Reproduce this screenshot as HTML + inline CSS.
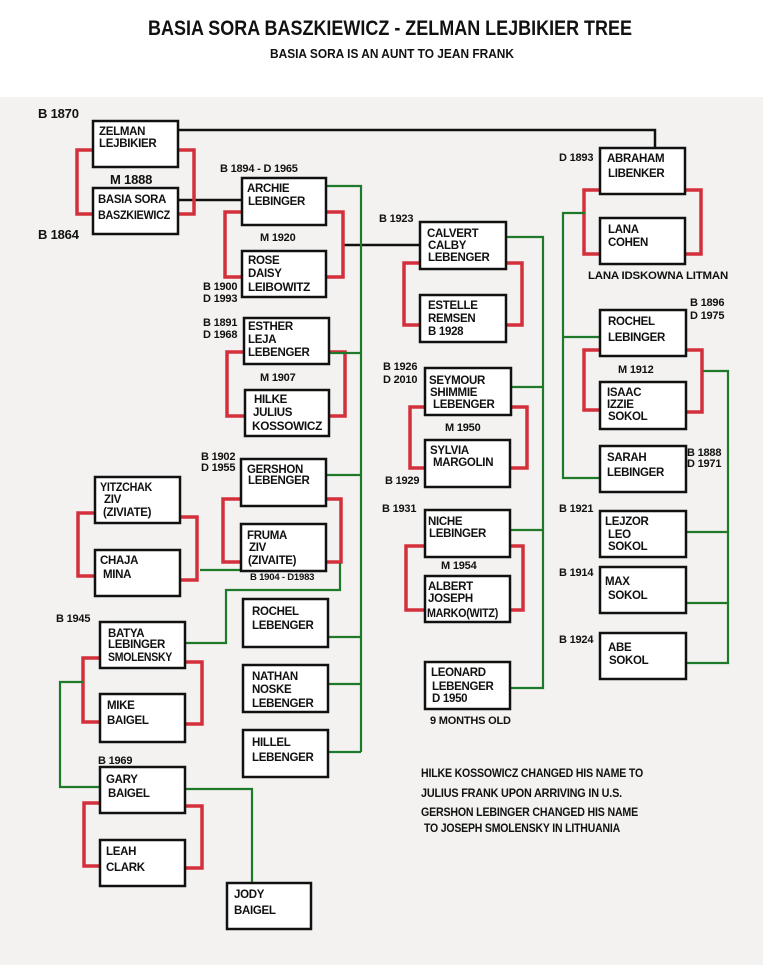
<!DOCTYPE html>
<html><head><meta charset="utf-8"><style>
html,body{margin:0;padding:0;background:#fff}
svg{display:block}
text{font-family:"Liberation Sans",sans-serif;font-weight:bold;fill:#111}
.b{font-size:11.5px;letter-spacing:-0.3px}
.l{font-size:11px;letter-spacing:-0.2px}
</style></head><body>
<svg width="763" height="965" viewBox="0 0 763 965" xmlns="http://www.w3.org/2000/svg">
<rect x="0" y="0" width="763" height="965" fill="#fff"/>
<rect x="0" y="97" width="763" height="868" fill="#f3f2f0"/>
<text x="148" y="35" textLength="484" lengthAdjust="spacingAndGlyphs" style="font-size:21px">BASIA SORA BASZKIEWICZ - ZELMAN LEJBIKIER TREE</text>
<text x="270" y="58" textLength="244" lengthAdjust="spacingAndGlyphs" style="font-size:13px">BASIA SORA IS AN  AUNT TO JEAN FRANK</text>

<g stroke="#111" stroke-width="2.5" fill="none">
<path d="M178 130 H655 V148"/>
<path d="M178 200 H242"/>
<path d="M343 245 H420"/>
</g>

<g stroke="#d3303c" stroke-width="3.5" fill="none">
<path d="M93 150 H77 V214 H93 M178 150 H194 V214 H178"/>
<path d="M242 212 H225 V277 H242 M326 212 H343 V277 H326"/>
<path d="M244 352 H227 V416 H245 M329 352 H345 V416 H329"/>
<path d="M241 499 H223 V562 H241 M326 499 H341 V562 H326"/>
<path d="M95 513 H78 V576 H95 M180 517 H197 V580 H180"/>
<path d="M100 658 H83 V722 H100 M185 662 H202 V724 H185"/>
<path d="M100 803 H84 V866 H100 M185 806 H202 V868 H185"/>
<path d="M420 263 H404 V325 H420 M506 263 H522 V325 H506"/>
<path d="M425 407 H410 V468 H425 M511 407 H527 V468 H510"/>
<path d="M425 546 H406 V610 H425 M510 546 H523 V610 H510"/>
<path d="M600 190 H584 V254 H600 M685 190 H701 V254 H685"/>
<path d="M600 350 H584 V410 H600 M686 350 H702 V412 H686"/>
</g>

<g stroke="#1e7a2a" stroke-width="2.2" fill="none">
<path d="M326 186 H361 V752"/>
<path d="M329 353 H361 M326 475 H361 M328 637 H361 M328 684 H361 M328 752 H361"/>
<path d="M200 570 H241"/>
<path d="M340 563 V590 H226 V643 H185"/>
<path d="M83 682 H60 V787 H100"/>
<path d="M185 789 H252 V883"/>
<path d="M506 237 H543 V688 H510 M511 387 H543 M510 530 H543"/>
<path d="M585 213 H563 V478 H600 M563 337 H600"/>
<path d="M703 371 H728 V663 H686 M686 532 H728 M686 603 H728"/>
</g>

<g fill="#fff" stroke="#111" stroke-width="2.5">
<rect x="93" y="121" width="85" height="46"/>
<rect x="93" y="188" width="85" height="46"/>
<rect x="242" y="178" width="84" height="47"/>
<rect x="242" y="251" width="84" height="46"/>
<rect x="244" y="318" width="85" height="46"/>
<rect x="245" y="390" width="84" height="46"/>
<rect x="241" y="459" width="85" height="47"/>
<rect x="241" y="524" width="85" height="47"/>
<rect x="95" y="477" width="85" height="46"/>
<rect x="95" y="550" width="85" height="46"/>
<rect x="243" y="599" width="85" height="48"/>
<rect x="243" y="665" width="85" height="47"/>
<rect x="243" y="730" width="85" height="47"/>
<rect x="100" y="622" width="85" height="46"/>
<rect x="100" y="694" width="85" height="48"/>
<rect x="100" y="767" width="85" height="46"/>
<rect x="100" y="840" width="85" height="46"/>
<rect x="227" y="883" width="84" height="46"/>
<rect x="420" y="222" width="86" height="47"/>
<rect x="420" y="295" width="86" height="47"/>
<rect x="425" y="368" width="86" height="47"/>
<rect x="425" y="440" width="85" height="47"/>
<rect x="425" y="510" width="85" height="47"/>
<rect x="425" y="576" width="85" height="46"/>
<rect x="425" y="662" width="85" height="47"/>
<rect x="600" y="148" width="85" height="46"/>
<rect x="600" y="218" width="85" height="46"/>
<rect x="600" y="310" width="86" height="46"/>
<rect x="600" y="382" width="86" height="47"/>
<rect x="600" y="446" width="86" height="46"/>
<rect x="600" y="511" width="86" height="46"/>
<rect x="600" y="567" width="86" height="46"/>
<rect x="600" y="633" width="86" height="46"/>
</g>

<g>
<text x="99" y="135" class="b">ZELMAN</text><text x="99" y="147" class="b">LEJBIKIER</text>
<text x="98" y="203" class="b" textLength="68" lengthAdjust="spacingAndGlyphs">BASIA SORA</text><text x="98" y="219" class="b" textLength="72" lengthAdjust="spacingAndGlyphs">BASZKIEWICZ</text>
<text x="247" y="192" class="b">ARCHIE</text><text x="248" y="205" class="b">LEBINGER</text>
<text x="248" y="264" class="b">ROSE</text><text x="248" y="277" class="b">DAISY</text><text x="248" y="291" class="b" textLength="62" lengthAdjust="spacingAndGlyphs">LEIBOWITZ</text>
<text x="248" y="330" class="b">ESTHER</text><text x="248" y="343" class="b">LEJA</text><text x="248" y="356" class="b">LEBENGER</text>
<text x="254" y="403" class="b">HILKE</text><text x="253" y="416" class="b">JULIUS</text><text x="252" y="430" class="b" textLength="70" lengthAdjust="spacingAndGlyphs">KOSSOWICZ</text>
<text x="247" y="473" class="b">GERSHON</text><text x="248" y="484" class="b">LEBENGER</text>
<text x="247" y="539" class="b">FRUMA</text><text x="249" y="551" class="b">ZIV</text><text x="248" y="564" class="b">(ZIVAITE)</text>
<text x="100" y="491" class="b" textLength="52" lengthAdjust="spacingAndGlyphs">YITZCHAK</text><text x="104" y="503" class="b">ZIV</text><text x="103" y="516" class="b">(ZIVIATE)</text>
<text x="100" y="564" class="b">CHAJA</text><text x="103" y="578" class="b">MINA</text>
<text x="252" y="615" class="b">ROCHEL</text><text x="252" y="629" class="b">LEBENGER</text>
<text x="252" y="680" class="b">NATHAN</text><text x="252" y="693" class="b">NOSKE</text><text x="252" y="707" class="b">LEBENGER</text>
<text x="252" y="746" class="b">HILLEL</text><text x="252" y="761" class="b">LEBENGER</text>
<text x="108" y="637" class="b">BATYA</text><text x="108" y="648" class="b">LEBINGER</text><text x="108" y="661" class="b" textLength="64" lengthAdjust="spacingAndGlyphs">SMOLENSKY</text>
<text x="107" y="709" class="b">MIKE</text><text x="107" y="724" class="b">BAIGEL</text>
<text x="106" y="783" class="b">GARY</text><text x="108" y="797" class="b">BAIGEL</text>
<text x="106" y="855" class="b">LEAH</text><text x="106" y="871" class="b">CLARK</text>
<text x="234" y="898" class="b">JODY</text><text x="234" y="914" class="b">BAIGEL</text>
<text x="427" y="237" class="b">CALVERT</text><text x="428" y="249" class="b">CALBY</text><text x="428" y="261" class="b">LEBENGER</text>
<text x="428" y="309" class="b">ESTELLE</text><text x="428" y="322" class="b">REMSEN</text><text x="428" y="335" class="b">B 1928</text>
<text x="429" y="384" class="b">SEYMOUR</text><text x="430" y="396" class="b">SHIMMIE</text><text x="433" y="408" class="b">LEBENGER</text>
<text x="430" y="454" class="b">SYLVIA</text><text x="433" y="466" class="b">MARGOLIN</text>
<text x="428" y="525" class="b">NICHE</text><text x="429" y="537" class="b">LEBINGER</text>
<text x="428" y="590" class="b">ALBERT</text><text x="428" y="602" class="b">JOSEPH</text><text x="427" y="617" class="b" textLength="71" lengthAdjust="spacingAndGlyphs">MARKO(WITZ)</text>
<text x="431" y="676" class="b">LEONARD</text><text x="432" y="690" class="b">LEBENGER</text><text x="432" y="702" class="b">D 1950</text>
<text x="607" y="162" class="b">ABRAHAM</text><text x="608" y="177" class="b">LIBENKER</text>
<text x="608" y="233" class="b">LANA</text><text x="608" y="246" class="b">COHEN</text>
<text x="608" y="325" class="b">ROCHEL</text><text x="608" y="341" class="b">LEBINGER</text>
<text x="607" y="396" class="b">ISAAC</text><text x="607" y="408" class="b">IZZIE</text><text x="608" y="420" class="b">SOKOL</text>
<text x="607" y="461" class="b">SARAH</text><text x="607" y="476" class="b">LEBINGER</text>
<text x="605" y="525" class="b">LEJZOR</text><text x="608" y="538" class="b">LEO</text><text x="608" y="550" class="b">SOKOL</text>
<text x="605" y="585" class="b">MAX</text><text x="608" y="599" class="b">SOKOL</text>
<text x="608" y="651" class="b">ABE</text><text x="609" y="664" class="b">SOKOL</text>
</g>

<g>
<text x="38" y="118" class="l" style="font-size:13px">B 1870</text>
<text x="38" y="239" class="l" style="font-size:13px">B 1864</text>
<text x="110" y="184" class="l" style="font-size:13px">M 1888</text>
<text x="220" y="172" class="l">B 1894  - D 1965</text>
<text x="260" y="241" class="l">M 1920</text>
<text x="203" y="290" class="l">B 1900</text><text x="203" y="302" class="l">D 1993</text>
<text x="203" y="326" class="l">B 1891</text><text x="203" y="338" class="l">D 1968</text>
<text x="260" y="381" class="l">M 1907</text>
<text x="201" y="460" class="l">B 1902</text><text x="201" y="471" class="l">D 1955</text>
<text x="250" y="580" class="l" style="font-size:9.5px">B 1904 - D1983</text>
<text x="56" y="622" class="l">B 1945</text>
<text x="98" y="764" class="l">B 1969</text>
<text x="379" y="222" class="l">B 1923</text>
<text x="383" y="370" class="l">B 1926</text><text x="383" y="383" class="l">D 2010</text>
<text x="445" y="431" class="l">M 1950</text>
<text x="385" y="484" class="l">B 1929</text>
<text x="382" y="512" class="l">B 1931</text>
<text x="441" y="569" class="l">M 1954</text>
<text x="430" y="724" class="l">9 MONTHS OLD</text>
<text x="559" y="161" class="l">D 1893</text>
<text x="588" y="279" class="l" textLength="140" lengthAdjust="spacingAndGlyphs">LANA IDSKOWNA LITMAN</text>
<text x="690" y="306" class="l">B 1896</text><text x="690" y="319" class="l">D 1975</text>
<text x="618" y="373" class="l">M 1912</text>
<text x="687" y="456" class="l">B 1888</text><text x="687" y="467" class="l">D 1971</text>
<text x="559" y="512" class="l">B 1921</text>
<text x="559" y="576" class="l">B 1914</text>
<text x="559" y="643" class="l">B 1924</text>
<text x="421" y="777" class="l" style="font-size:12px" textLength="222" lengthAdjust="spacingAndGlyphs">HILKE KOSSOWICZ CHANGED HIS NAME TO</text>
<text x="421" y="797" class="l" style="font-size:12px" textLength="201" lengthAdjust="spacingAndGlyphs">JULIUS FRANK  UPON ARRIVING IN U.S.</text>
<text x="421" y="816" class="l" style="font-size:12px" textLength="217" lengthAdjust="spacingAndGlyphs">GERSHON LEBINGER CHANGED HIS NAME</text>
<text x="424" y="832" class="l" style="font-size:12px" textLength="196" lengthAdjust="spacingAndGlyphs">TO JOSEPH SMOLENSKY IN LITHUANIA</text>
</g>
</svg>
</body></html>
